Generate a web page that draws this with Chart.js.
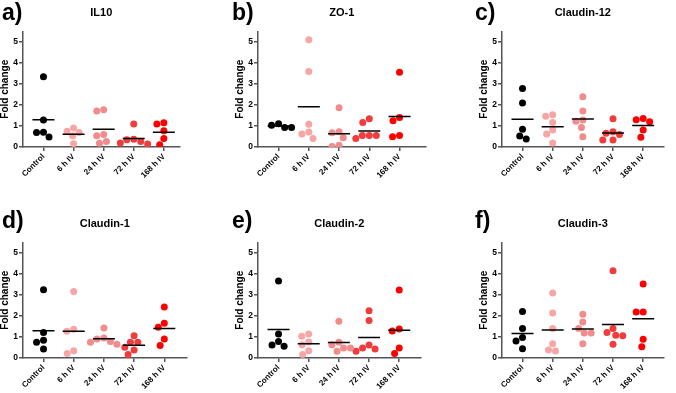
<!DOCTYPE html>
<html>
<head>
<meta charset="utf-8">
<script src="https://cdn.jsdelivr.net/npm/chart.js"></script>
<style>
  html, body { margin: 0; padding: 0; background: #fff; overflow: hidden; width: 676px; height: 393px; }
  .panel { position: absolute; height: 211px; }
  .tag { position: absolute; font: bold 23px 'Liberation Sans', Arial, sans-serif; line-height: 1; color: #000; }
</style>
</head>
<body>
<script>
// gruppi e testi
const groups = ['Control', '6 h IV', '24 h IV', '72 h IV', '168 h IV'];
const titles = ['IL10', 'ZO-1', 'Claudin-12', 'Claudin-1', 'Claudin-2', 'Claudin-3'];
const letters = ['a)', 'b)', 'c)', 'd)', 'e)', 'f)'];
const yTicks = [0, 1, 2, 3, 4, 5];

// fold change per gruppo
const il10 = [
  [3.34, 1.29, 0.70, 0.69, 0.48],
  [0.91, 0.75, 0.69, 0.53, 0.16],
  [1.77, 1.71, 0.59, 0.53, 0.26, 0.18],
  [1.10, 0.37, 0.35, 0.26, 0.19, 0.14],
  [1.15, 1.10, 0.77, 0.40, 0.11]
];
const zo1 = [
  [1.11, 1.03, 0.93, 0.93],
  [5.11, 3.59, 1.08, 0.71, 0.62, 0.41],
  [1.87, 0.73, 0.68, 0.44, 0.08, 0.02],
  [1.34, 1.17, 0.55, 0.55, 0.55, 0.40],
  [3.56, 1.41, 1.25, 0.55, 0.49]
];
const cldn12 = [
  [2.78, 2.09, 0.85, 0.52, 0.38],
  [1.53, 1.47, 1.17, 0.81, 0.62, 0.19],
  [2.39, 1.71, 1.28, 1.23, 0.93, 0.49],
  [1.34, 0.73, 0.65, 0.60, 0.33, 0.33],
  [1.36, 1.30, 1.20, 0.81, 0.47]
];
const cldn1 = [
  [3.25, 1.21, 0.84, 0.75, 0.43],
  [3.17, 1.37, 1.27, 0.35, 0.21],
  [1.43, 0.95, 0.90, 0.79, 0.75, 0.65],
  [1.06, 0.75, 0.75, 0.51, 0.38, 0.17],
  [2.43, 1.65, 1.46, 0.90, 0.60]
];
const cldn2 = [
  [3.67, 1.14, 0.78, 0.62, 0.56],
  [1.14, 1.03, 0.76, 0.63, 0.35, 0.17],
  [1.75, 0.75, 0.63, 0.48, 0.48, 0.32],
  [2.25, 1.79, 0.62, 0.48, 0.43, 0.32],
  [3.24, 1.38, 1.29, 0.48, 0.21]
];
const cldn3 = [
  [2.22, 1.40, 0.98, 0.81, 0.44],
  [3.10, 2.14, 1.40, 0.68, 0.38, 0.33],
  [2.08, 1.71, 1.41, 1.19, 1.19, 0.68],
  [4.16, 1.41, 1.21, 1.08, 1.06, 0.65],
  [3.52, 2.19, 2.19, 0.89, 0.54]
];
const panels = [il10, zo1, cldn12, cldn1, cldn2, cldn3];

const groupColors = ['#000000', '#f8a5a5', '#f28b8b', '#f03c3c', '#ff0000'];

// posizione asse y (x), riga (y) e lunghezza asse x di ogni pannello
const boxes = [
  { x: 23,  y: 0,   w: 169 },
  { x: 258, y: 0,   w: 180 },
  { x: 502, y: 0,   w: 174 },
  { x: 23,  y: 211, w: 176 },
  { x: 258, y: 211, w: 175 },
  { x: 502, y: 211, w: 174 }
];
const tagPos = [[2, 1], [232, 1], [475, 1], [2, 209], [232, 209], [475, 209]];

Chart.defaults.font.family = "'Liberation Sans', Arial, sans-serif";
Chart.defaults.color = '#000';

const PX_X = 32.5, PX_Y = 21, GAP = 7.5;
const X_MIN = -0.68;

// beeswarm: ogni punto va nella posizione libera più vicina al centro
function swarm(vals, i) {
  const done = [];
  [...vals].sort((a, b) => b - a).forEach(v => {
    for (let k = 0; k < 80; k++) {
      const off = (k % 2 ? -1 : 1) * Math.ceil(k / 2) * 0.5;
      if (done.every(p => Math.hypot(p.off - off, (p.v - v) * PX_Y) >= GAP)) {
        done.push({ v, off });
        break;
      }
    }
  });
  return done.map(p => ({ x: i + p.off / PX_X, y: p.v }));
}

const mean = a => a.reduce((s, v) => s + v, 0) / a.length;

panels.forEach((vals, n) => {
  const b = boxes[n];
  const div = document.createElement('div');
  div.className = 'panel';
  div.style.left = (b.x - 24) + 'px';
  div.style.top = b.y + 'px';
  div.style.width = (b.w + 24) + 'px';
  const cv = document.createElement('canvas');
  div.appendChild(cv);
  document.body.appendChild(div);

  const tag = document.createElement('div');
  tag.className = 'tag';
  tag.style.left = tagPos[n][0] + 'px';
  tag.style.top = tagPos[n][1] + 'px';
  tag.textContent = letters[n];
  document.body.appendChild(tag);

  // linea della media per primo = disegnata sopra
  const datasets = [{
    data: vals.map((g, i) => ({ x: i, y: mean(g) })),
    pointStyle: 'line',
    pointRadius: 11,
    borderColor: '#000',
    borderWidth: 1.5,
    showLine: false
  }];
  vals.forEach((g, i) => {
    datasets.push({
      data: swarm(g, i),
      backgroundColor: groupColors[i],
      borderWidth: 0,
      pointRadius: 3.5,
      showLine: false
    });
  });

  new Chart(cv, {
    type: 'scatter',
    data: { datasets },
    options: {
      responsive: true,
      maintainAspectRatio: false,
      animation: false,
      events: [],
      layout: { padding: 0 },
      plugins: {
        legend: { display: false },
        tooltip: { enabled: false },
        title: {
          display: true,
          text: titles[n],
          fullSize: false,
          color: '#000',
          font: { size: 11, weight: 'bold' },
          padding: { top: 6, bottom: 12.3 }
        }
      },
      scales: {
        x: {
          type: 'linear',
          min: X_MIN,
          max: X_MIN + b.w / PX_X,
          afterBuildTicks: s => { s.ticks = groups.map((g, i) => ({ value: i })); },
          afterFit: s => { s.height = 64; },
          ticks: {
            autoSkip: false,
            minRotation: 45,
            maxRotation: 45,
            padding: 1,
            color: '#000',
            font: { size: 8, weight: 'bold' },
            callback: v => groups[v]
          },
          grid: { drawOnChartArea: false, tickLength: 4, color: '#555', lineWidth: 1.5 },
          border: { color: '#555', width: 1.5 }
        },
        y: {
          min: 0,
          max: 5.5,
          afterBuildTicks: s => { s.ticks = yTicks.map(v => ({ value: v })); },
          afterFit: s => { s.width = 24; },
          ticks: { padding: 1, color: '#000', font: { size: 8.5, weight: 'bold' } },
          grid: { drawOnChartArea: false, tickLength: 4, color: '#555', lineWidth: 1.5 },
          border: { color: '#555', width: 1.5 },
          title: {
            display: true,
            text: 'Fold change',
            color: '#000',
            padding: 0,
            font: { size: 10, weight: 'bold' }
          }
        }
      }
    }
  });
});
</script>
</body>
</html>
